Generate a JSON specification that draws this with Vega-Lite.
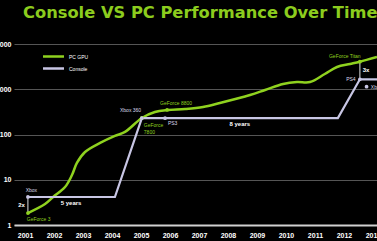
{
  "$schema": "https://vega.github.io/schema/vega-lite/v6.json",
  "width": 363,
  "height": 181,
  "autosize": {"type": "none"},
  "padding": {"left": 14, "top": 44, "right": 0, "bottom": 16},
  "background": "#000000",
  "title": {
    "text": "Console VS PC Performance Over Time",
    "color": "#8ccc1e",
    "font": "DejaVu Sans",
    "fontWeight": "bold",
    "fontSize": 16.3,
    "anchor": "start",
    "frame": "group",
    "dx": 9,
    "dy": -15
  },
  "config": {
    "view": {"stroke": null},
    "axis": {"labelColor": "#ffffff", "labelFont": "Liberation Sans", "labelFontWeight": "bold", "labelFontSize": 7, "ticks": false, "title": null, "labelOverlap": false, "labelBound": false, "labelFlush": false},
    "axisX": {"labelOverlap": false},
    "axisQuantitative": {"labelOverlap": false}
  },
  "datasets": {
    "series": [
      {"series": "PC GPU", "year": 2001.10, "value": 1.84},
      {"series": "PC GPU", "year": 2001.69, "value": 2.91},
      {"series": "PC GPU", "year": 2001.97, "value": 4.16},
      {"series": "PC GPU", "year": 2002.38, "value": 6.9},
      {"series": "PC GPU", "year": 2002.62, "value": 12.7},
      {"series": "PC GPU", "year": 2002.79, "value": 23.5},
      {"series": "PC GPU", "year": 2003.07, "value": 41},
      {"series": "PC GPU", "year": 2003.59, "value": 65},
      {"series": "PC GPU", "year": 2004.10, "value": 93},
      {"series": "PC GPU", "year": 2004.45, "value": 114},
      {"series": "PC GPU", "year": 2005.03, "value": 232},
      {"series": "PC GPU", "year": 2005.48, "value": 314},
      {"series": "PC GPU", "year": 2005.90, "value": 348},
      {"series": "PC GPU", "year": 2006.52, "value": 366},
      {"series": "PC GPU", "year": 2007.14, "value": 405},
      {"series": "PC GPU", "year": 2007.72, "value": 497},
      {"series": "PC GPU", "year": 2008.76, "value": 746},
      {"series": "PC GPU", "year": 2009.28, "value": 962},
      {"series": "PC GPU", "year": 2009.90, "value": 1306},
      {"series": "PC GPU", "year": 2010.38, "value": 1446},
      {"series": "PC GPU", "year": 2010.83, "value": 1446},
      {"series": "PC GPU", "year": 2011.34, "value": 2173},
      {"series": "PC GPU", "year": 2011.76, "value": 3103},
      {"series": "PC GPU", "year": 2012.21, "value": 3614},
      {"series": "PC GPU", "year": 2012.55, "value": 4065},
      {"series": "PC GPU", "year": 2013.14, "value": 5161},
      {"series": "Console", "year": 2001.10, "value": 4.16},
      {"series": "Console", "year": 2004.10, "value": 4.16},
      {"series": "Console", "year": 2005.03, "value": 230},
      {"series": "Console", "year": 2005.83, "value": 230},
      {"series": "Console", "year": 2011.79, "value": 230},
      {"series": "Console", "year": 2012.55, "value": 1660},
      {"series": "Console", "year": 2013.14, "value": 1660}
    ],
    "markers": [
      {"series": "PC GPU", "year": 2001.10, "value": 1.84},
      {"series": "Console", "year": 2001.10, "value": 4.16},
      {"series": "PC GPU", "year": 2005.03, "value": 232},
      {"series": "Console", "year": 2005.03, "value": 230},
      {"series": "PC GPU", "year": 2005.90, "value": 348},
      {"series": "Console", "year": 2005.83, "value": 230},
      {"series": "PC GPU", "year": 2012.55, "value": 4065},
      {"series": "Console", "year": 2012.55, "value": 1660},
      {"series": "Console", "year": 2012.78, "value": 1138}
    ],
    "arrows": [
      {"year": 2001.10, "value": 1.84, "to": 4.16},
      {"year": 2012.55, "value": 1660, "to": 4065}
    ],
    "labels": [
      {"label": "Xbox", "year": 2001.22, "value": 5.9, "kind": "console"},
      {"label": "2x", "year": 2000.88, "value": 2.77, "kind": "note"},
      {"label": "GeForce 3", "year": 2001.47, "value": 1.36, "kind": "gpu"},
      {"label": "5 years", "year": 2002.59, "value": 3.06, "kind": "note"},
      {"label": "Xbox 360", "year": 2004.64, "value": 348, "kind": "console"},
      {"label": "GeForce", "year": 2005.43, "value": 162, "kind": "gpu"},
      {"label": "7800", "year": 2005.29, "value": 113, "kind": "gpu"},
      {"label": "GeForce 8800", "year": 2006.21, "value": 497, "kind": "gpu"},
      {"label": "PS3", "year": 2006.09, "value": 180, "kind": "console"},
      {"label": "8 years", "year": 2008.41, "value": 171, "kind": "note"},
      {"label": "GeForce Titan", "year": 2012.03, "value": 5430, "kind": "gpu"},
      {"label": "3x", "year": 2012.76, "value": 2663, "kind": "note"},
      {"label": "PS4", "year": 2012.24, "value": 1686, "kind": "console"},
      {"label": "Xbox One", "year": 2013.31, "value": 1122, "kind": "console"}
    ]
  },
  "encoding": {
    "x": {"field": "year", "type": "quantitative", "scale": {"domain": [2000.62, 2013.14], "nice": false, "zero": false},
      "axis": {"values": [2001,2002,2003,2004,2005,2006,2007,2008,2009,2010,2011,2012,2013], "format": "d", "grid": false, "domainColor": "#d0d0d0", "domainWidth": 2, "labelPadding": 6, "labelOverlap": false}},
    "y": {"field": "value", "type": "quantitative", "scale": {"type": "log", "domain": [1, 10000], "nice": false},
      "axis": {"values": [1,10,100,1000,10000], "format": "d", "grid": true, "gridColor": "#555555", "gridWidth": 1.2, "domain": false, "labelPadding": 3, "labelOverlap": false}}
  },
  "layer": [
    {
      "data": {"name": "series"},
      "transform": [{"filter": "datum.series === 'PC GPU'"}],
      "mark": {"type": "line", "interpolate": "catmull-rom", "strokeWidth": 2.5},
      "encoding": {
        "color": {"field": "series", "type": "nominal",
          "scale": {"domain": ["PC GPU", "Console"], "range": ["#8fd21f", "#c8c6e4"]},
          "legend": {"orient": "none", "legendX": 33, "legendY": 6, "title": null, "symbolType": "M-2,0H2", "symbolSize": 110, "symbolStrokeWidth": 2.5, "labelColor": "#ffffff", "labelFont": "Liberation Sans", "labelFontSize": 5, "rowPadding": 0, "labelOffset": 9, "padding": 0}}
      }
    },
    {
      "data": {"name": "series"},
      "transform": [{"filter": "datum.series === 'Console'"}],
      "mark": {"type": "line", "strokeWidth": 2.2},
      "encoding": {
        "color": {"field": "series", "type": "nominal"}
      }
    },
    {
      "data": {"name": "arrows"},
      "mark": {"type": "rule", "color": "#e0e0e0", "strokeWidth": 1},
      "encoding": {
        "y2": {"field": "to"}
      }
    },
    {
      "data": {"name": "markers"},
      "mark": {"type": "point", "filled": true, "size": 14, "opacity": 1},
      "encoding": {
        "color": {"field": "series", "type": "nominal"}
      }
    },
    {
      "data": {"name": "labels"},
      "transform": [{"filter": "datum.kind === 'gpu'"}],
      "mark": {"type": "text", "color": "#8fd21f", "font": "Liberation Sans", "fontSize": 5, "align": "center", "baseline": "middle"},
      "encoding": {
        "text": {"field": "label"}
      }
    },
    {
      "data": {"name": "labels"},
      "transform": [{"filter": "datum.kind === 'console'"}],
      "mark": {"type": "text", "color": "#dcdcec", "font": "Liberation Sans", "fontSize": 5, "align": "center", "baseline": "middle"},
      "encoding": {
        "text": {"field": "label"}
      }
    },
    {
      "data": {"name": "labels"},
      "transform": [{"filter": "datum.kind === 'note'"}],
      "mark": {"type": "text", "color": "#ffffff", "font": "Liberation Sans", "fontWeight": "bold", "fontSize": 6, "align": "center", "baseline": "middle"},
      "encoding": {
        "text": {"field": "label"}
      }
    }
  ]
}
